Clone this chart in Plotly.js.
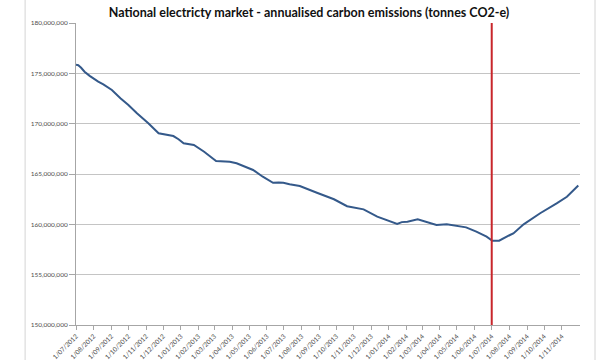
<!DOCTYPE html>
<html>
<head>
<meta charset="utf-8">
<script src="https://cdn.plot.ly/plotly-3.0.1.min.js"></script>
<style>html,body{margin:0;padding:0;background:#fff;}#chart{width:600px;height:360px;}</style>
</head>
<body>
<div id="chart"></div>
<script>
const dates = ["2012-07-01","2012-07-05","2012-07-10","2012-07-16","2012-07-25","2012-08-01","2012-08-09","2012-08-18","2012-09-02","2012-09-17","2012-10-01","2012-10-16","2012-11-05","2012-11-23","2012-12-08","2012-12-19","2012-12-28","2013-01-06","2013-01-24","2013-02-11","2013-03-04","2013-03-15","2013-03-28","2013-04-09","2013-04-22","2013-05-08","2013-05-25","2013-06-12","2013-06-22","2013-06-30","2013-07-11","2013-07-29","2013-08-28","2013-09-27","2013-10-20","2013-11-01","2013-11-18","2013-12-12","2013-12-30","2014-01-08","2014-01-16","2014-01-24","2014-02-03","2014-02-21","2014-03-09","2014-03-26","2014-04-13","2014-04-30","2014-05-17","2014-06-04","2014-06-22","2014-07-02","2014-07-14","2014-08-02","2014-08-08","2014-08-26","2014-09-24","2014-10-23","2014-11-10","2014-11-30"];
const emissions = [175850000,175800000,175550000,175160000,174750000,174440000,174170000,173910000,173340000,172520000,171850000,171030000,170040000,169040000,168870000,168770000,168450000,168050000,167880000,167210000,166290000,166280000,166220000,166060000,165750000,165400000,164730000,164130000,164150000,164130000,163980000,163810000,163140000,162490000,161800000,161700000,161490000,160760000,160360000,160200000,160030000,160220000,160260000,160500000,160260000,159930000,160000000,159830000,159700000,159270000,158770000,158370000,158370000,158940000,159100000,160000000,161100000,162090000,162740000,163850000];
const tickDates = ["2012-07-01","2012-08-01","2012-09-01","2012-10-01","2012-11-01","2012-12-01","2013-01-01","2013-02-01","2013-03-01","2013-04-01","2013-05-01","2013-06-01","2013-07-01","2013-08-01","2013-09-01","2013-10-01","2013-11-01","2013-12-01","2014-01-01","2014-02-01","2014-03-01","2014-04-01","2014-05-01","2014-06-01","2014-07-01","2014-08-01","2014-09-01","2014-10-01","2014-11-01"];
const tickLabels = ["1/07/2012","1/08/2012","1/09/2012","1/10/2012","1/11/2012","1/12/2012","1/01/2013","1/02/2013","1/03/2013","1/04/2013","1/05/2013","1/06/2013","1/07/2013","1/08/2013","1/09/2013","1/10/2013","1/11/2013","1/12/2013","1/01/2014","1/02/2014","1/03/2014","1/04/2014","1/05/2014","1/06/2014","1/07/2014","1/08/2014","1/09/2014","1/10/2014","1/11/2014"];
const yTicks = [150000000,155000000,160000000,165000000,170000000,175000000,180000000];
const yTickLabels = ["150,000,000","155,000,000","160,000,000","165,000,000","170,000,000","175,000,000","180,000,000"];
const markerDate = "2014-07-01";

const trace = {
  x: dates, y: emissions, type: 'scatter', mode: 'lines',
  line: {color: '#34598a', width: 2}, hoverinfo: 'skip'
};
const layout = {
  width: 600, height: 360,
  margin: {l: 76, r: 20, t: 23, b: 35},
  paper_bgcolor: '#ffffff', plot_bgcolor: '#ffffff',
  showlegend: false,
  font: {family: 'Lato, "Open Sans", sans-serif', color: '#595959'},
  title: {text: 'National electricty market - annualised carbon emissions (tonnes CO2-e)',
          font: {family: 'Lato, "Open Sans", sans-serif', size: 12.5, color: '#111111', weight: 'bold'},
          x: 0.515, xanchor: 'center', y: 0.965, yanchor: 'middle'},
  xaxis: {
    type: 'date', range: ['2012-07-01', '2014-12-03'],
    tickmode: 'array', tickvals: tickDates, ticktext: tickLabels,
    tickangle: -45, tickfont: {size: 6.5, color: '#4d4d4d'},
    ticks: 'outside', ticklen: 4, tickcolor: '#a6a6a6',
    showgrid: false, showline: true, linecolor: '#a6a6a6', linewidth: 1,
    zeroline: false, automargin: false
  },
  yaxis: {
    range: [150000000, 180000000],
    tickmode: 'array', tickvals: yTicks, ticktext: yTickLabels,
    tickfont: {size: 6.5, color: '#4d4d4d'},
    ticks: 'outside', ticklen: 6, tickcolor: '#a6a6a6',
    showgrid: true, gridcolor: '#c4c4c4', gridwidth: 1,
    showline: true, linecolor: '#a6a6a6', linewidth: 1,
    zeroline: false, automargin: false
  },
  shapes: [
    {type: 'line', xref: 'x', yref: 'paper', x0: markerDate, x1: markerDate, y0: 0, y1: 1,
     line: {color: '#c8262b', width: 2}},
    {type: 'line', xref: 'paper', yref: 'paper', x0: -0.101, x1: -0.101, y0: -0.2, y1: 1.2,
     line: {color: '#d4d4d4', width: 1}},
    {type: 'line', xref: 'paper', yref: 'paper', x0: 1.0298, x1: 1.0298, y0: -0.2, y1: 1.2,
     line: {color: '#d4d4d4', width: 1}}
  ]
};
Plotly.newPlot('chart', [trace], layout, {staticPlot: true, displayModeBar: false});
</script>
</body>
</html>
